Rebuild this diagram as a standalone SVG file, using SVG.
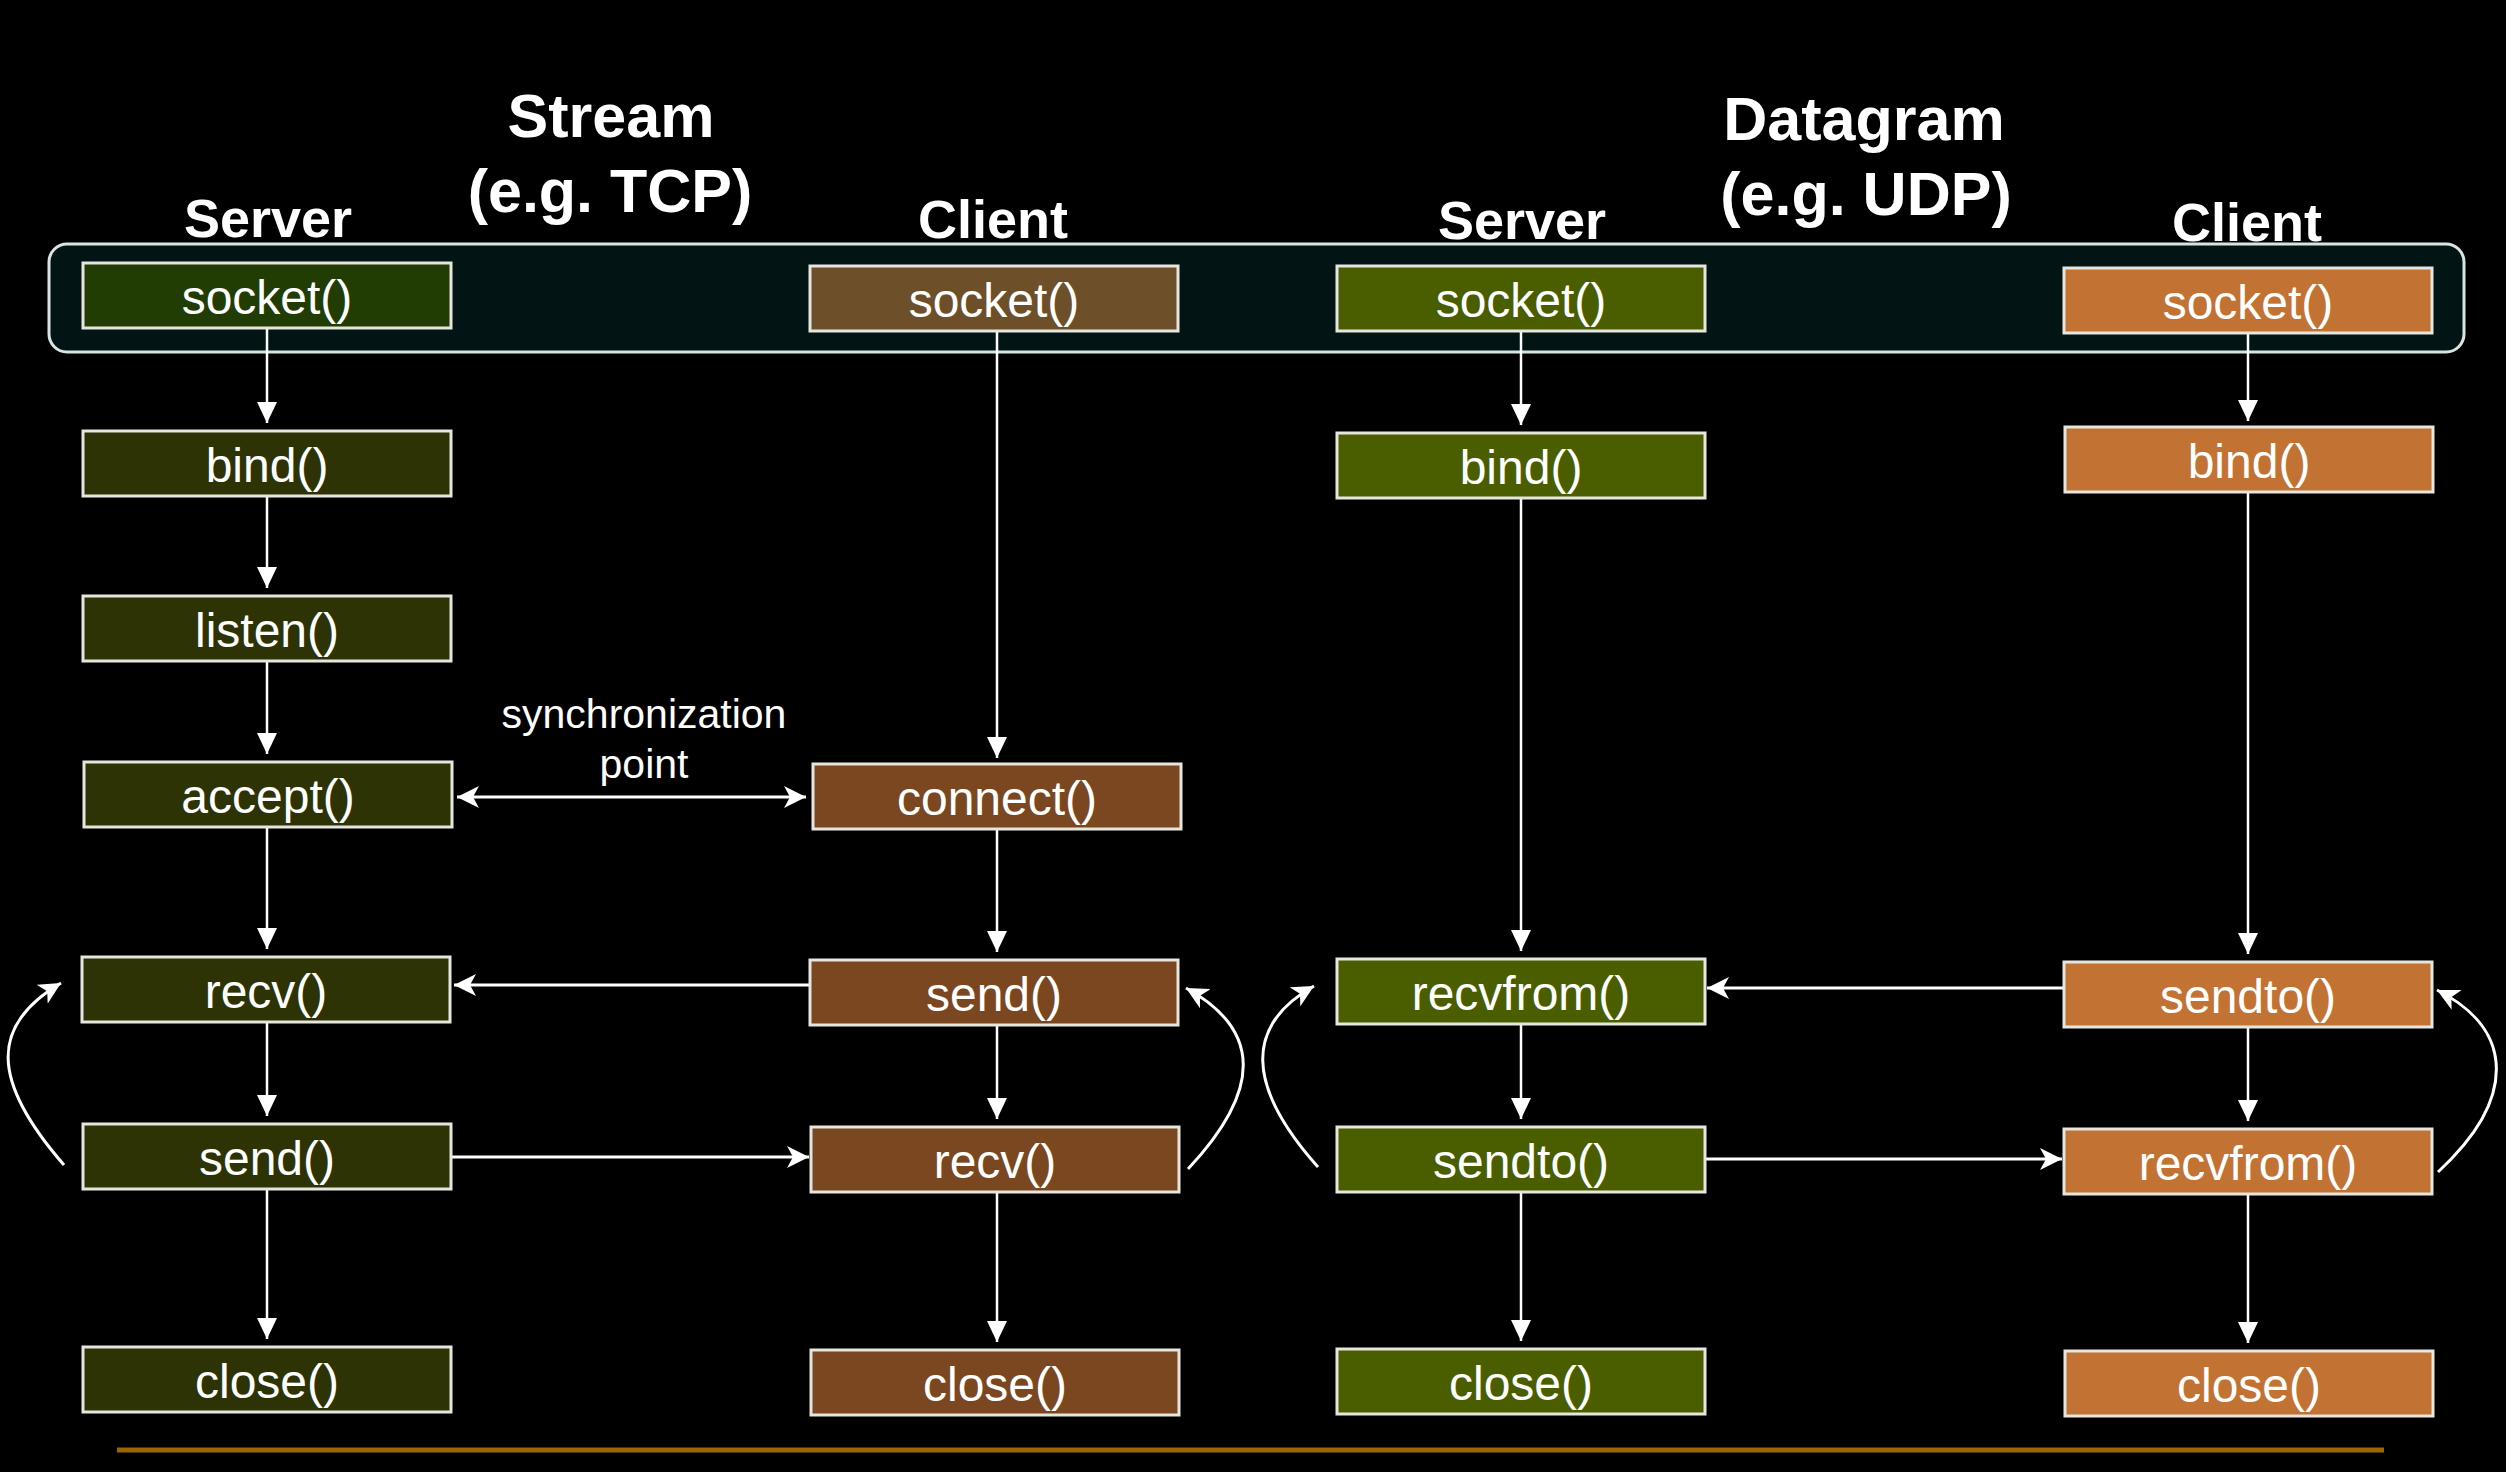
<svg xmlns="http://www.w3.org/2000/svg" width="2506" height="1472" viewBox="0 0 2506 1472">
<style>
.box{stroke:#e6e6de;stroke-width:3}
.s1{fill:#213d04}.c1{fill:#2d3304}
.s2{fill:#6d5029}.c2{fill:#7a4720}
.c3{fill:#4a5e00}.c4{fill:#c27233}
.lbl{font-family:"Liberation Sans",Arial,sans-serif;font-size:48px;fill:#fff;text-anchor:middle}
.hd{font-family:"Liberation Sans",Arial,sans-serif;font-weight:bold;fill:#fff;text-anchor:middle}
.t1{font-size:61px}.t2{font-size:54px}
.note{font-family:"Liberation Sans",Arial,sans-serif;font-size:41px;fill:#fff;text-anchor:middle}
.v{stroke:#fff;stroke-width:2.5;fill:none;marker-end:url(#tri)}
.h{stroke:#fff;stroke-width:3;fill:none;marker-end:url(#st)}
.cv{stroke:#fff;stroke-width:3;fill:none;marker-end:url(#st)}
</style>
<defs>
<marker id="tri" markerUnits="userSpaceOnUse" markerWidth="21" markerHeight="20" viewBox="0 0 21 20" refX="21" refY="10" orient="auto"><path d="M0,0 L21,10 L0,20 z" fill="#fff"/></marker>
<marker id="st" markerUnits="userSpaceOnUse" markerWidth="22" markerHeight="22" viewBox="0 0 22 22" refX="22" refY="11" orient="auto-start-reverse"><path d="M0,0 L22,11 L0,22 L6,11 z" fill="#fff"/></marker>
</defs>
<rect width="2506" height="1472" fill="#000"/>
<rect x="49" y="244" width="2415" height="108" rx="18" fill="#021414" stroke="#d8e4e4" stroke-width="3"/>
<g id="headers">
<text class="hd t1" x="611" y="137">Stream</text>
<text class="hd t1" x="610" y="212">(e.g. TCP)</text>
<text class="hd t1" x="1864" y="140">Datagram</text>
<text class="hd t1" x="1866" y="215">(e.g. UDP)</text>
<text class="hd t2" x="268" y="237">Server</text>
<text class="hd t2" x="993" y="238">Client</text>
<text class="hd t2" x="1522" y="239">Server</text>
<text class="hd t2" x="2247" y="241">Client</text>
</g>
<g id="connectors">
<line class="v" x1="267" y1="328" x2="267" y2="423"/>
<line class="v" x1="267" y1="496" x2="267" y2="588"/>
<line class="v" x1="267" y1="661" x2="267" y2="754"/>
<line class="v" x1="267" y1="827" x2="267" y2="949"/>
<line class="v" x1="267" y1="1022" x2="267" y2="1116"/>
<line class="v" x1="267" y1="1189" x2="267" y2="1339"/>
<line class="v" x1="997" y1="331" x2="997" y2="758"/>
<line class="v" x1="997" y1="830" x2="997" y2="952"/>
<line class="v" x1="997" y1="1025" x2="997" y2="1119"/>
<line class="v" x1="997" y1="1192" x2="997" y2="1342"/>
<line class="v" x1="1521" y1="331" x2="1521" y2="425"/>
<line class="v" x1="1521" y1="498" x2="1521" y2="951"/>
<line class="v" x1="1521" y1="1024" x2="1521" y2="1119"/>
<line class="v" x1="1521" y1="1192" x2="1521" y2="1341"/>
<line class="v" x1="2248" y1="333" x2="2248" y2="421"/>
<line class="v" x1="2248" y1="492" x2="2248" y2="954"/>
<line class="v" x1="2248" y1="1027" x2="2248" y2="1121"/>
<line class="v" x1="2248" y1="1194" x2="2248" y2="1343"/>
<line class="h" x1="457" y1="797" x2="806" y2="797" marker-start="url(#st)"/>
<line class="h" x1="810" y1="985" x2="454" y2="985"/>
<line class="h" x1="451" y1="1157" x2="809" y2="1157"/>
<line class="h" x1="2064" y1="988" x2="1707" y2="988"/>
<line class="h" x1="1705" y1="1159" x2="2062" y2="1159"/>
<path class="cv" d="M64,1165 C-10,1080 -10,1025 61,983"/>
<path class="cv" d="M1188,1169 C1262,1090 1262,1030 1186,988"/>
<path class="cv" d="M1318,1167 C1245,1085 1245,1025 1314,986"/>
<path class="cv" d="M2438,1172 C2516,1100 2516,1030 2437,990"/>
</g>
<g id="sync-label">
<text class="note" x="644" y="728">synchronization</text>
<text class="note" x="644" y="778">point</text>
</g>
<g id="tcp-server-socket"><rect class="box s1" x="83" y="263" width="368" height="65"/><text class="lbl" x="267" y="314">socket()</text></g>
<g id="tcp-server-bind"><rect class="box c1" x="83" y="431" width="368" height="65"/><text class="lbl" x="267" y="482">bind()</text></g>
<g id="tcp-server-listen"><rect class="box c1" x="83" y="596" width="368" height="65"/><text class="lbl" x="267" y="647">listen()</text></g>
<g id="tcp-server-accept"><rect class="box c1" x="84" y="762" width="368" height="65"/><text class="lbl" x="268" y="813">accept()</text></g>
<g id="tcp-server-recv"><rect class="box c1" x="82" y="957" width="368" height="65"/><text class="lbl" x="266" y="1008">recv()</text></g>
<g id="tcp-server-send"><rect class="box c1" x="83" y="1124" width="368" height="65"/><text class="lbl" x="267" y="1175">send()</text></g>
<g id="tcp-server-close"><rect class="box c1" x="83" y="1347" width="368" height="65"/><text class="lbl" x="267" y="1398">close()</text></g>
<g id="tcp-client-socket"><rect class="box s2" x="810" y="266" width="368" height="65"/><text class="lbl" x="994" y="317">socket()</text></g>
<g id="tcp-client-connect"><rect class="box c2" x="813" y="764" width="368" height="65"/><text class="lbl" x="997" y="815">connect()</text></g>
<g id="tcp-client-send"><rect class="box c2" x="810" y="960" width="368" height="65"/><text class="lbl" x="994" y="1011">send()</text></g>
<g id="tcp-client-recv"><rect class="box c2" x="811" y="1127" width="368" height="65"/><text class="lbl" x="995" y="1178">recv()</text></g>
<g id="tcp-client-close"><rect class="box c2" x="811" y="1350" width="368" height="65"/><text class="lbl" x="995" y="1401">close()</text></g>
<g id="udp-server-socket"><rect class="box c3" x="1337" y="266" width="368" height="65"/><text class="lbl" x="1521" y="317">socket()</text></g>
<g id="udp-server-bind"><rect class="box c3" x="1337" y="433" width="368" height="65"/><text class="lbl" x="1521" y="484">bind()</text></g>
<g id="udp-server-recvfrom"><rect class="box c3" x="1337" y="959" width="368" height="65"/><text class="lbl" x="1521" y="1010">recvfrom()</text></g>
<g id="udp-server-sendto"><rect class="box c3" x="1337" y="1127" width="368" height="65"/><text class="lbl" x="1521" y="1178">sendto()</text></g>
<g id="udp-server-close"><rect class="box c3" x="1337" y="1349" width="368" height="65"/><text class="lbl" x="1521" y="1400">close()</text></g>
<g id="udp-client-socket"><rect class="box c4" x="2064" y="268" width="368" height="65"/><text class="lbl" x="2248" y="319">socket()</text></g>
<g id="udp-client-bind"><rect class="box c4" x="2065" y="427" width="368" height="65"/><text class="lbl" x="2249" y="478">bind()</text></g>
<g id="udp-client-sendto"><rect class="box c4" x="2064" y="962" width="368" height="65"/><text class="lbl" x="2248" y="1013">sendto()</text></g>
<g id="udp-client-recvfrom"><rect class="box c4" x="2064" y="1129" width="368" height="65"/><text class="lbl" x="2248" y="1180">recvfrom()</text></g>
<g id="udp-client-close"><rect class="box c4" x="2065" y="1351" width="368" height="65"/><text class="lbl" x="2249" y="1402">close()</text></g>
<line x1="117" y1="1450" x2="2384" y2="1450" stroke="#9c6500" stroke-width="5"/>
</svg>
